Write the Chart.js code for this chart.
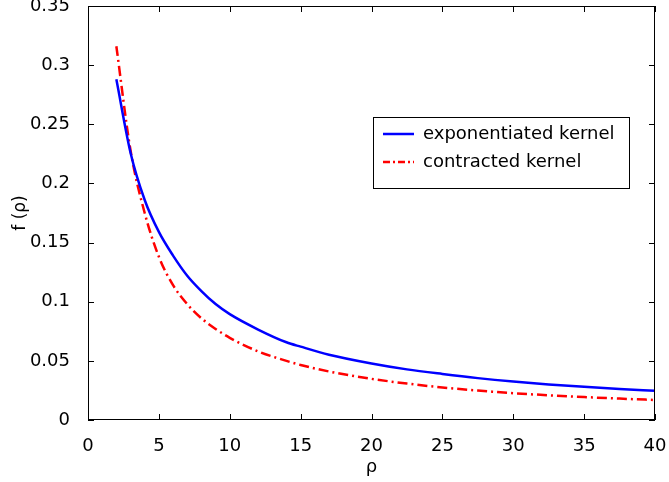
<!DOCTYPE html>
<html>
<head>
<meta charset="utf-8">
<script src="https://cdn.jsdelivr.net/npm/chart.js@4"></script>
<style>
  html, body { margin: 0; padding: 0; background: #fff; }
  #wrap { width: 669px; height: 482px; position: relative; }
</style>
</head>
<body>
<div id="wrap"><canvas id="kernelChart"></canvas></div>
<script>
// rho values and the two kernel curves
const rho = [2, 3, 4, 5, 6, 7, 8, 9, 10, 12, 14, 15, 17, 20, 22.5, 25, 27.5, 30, 32.5, 35, 37.5, 40];
const exponentiated = [0.288, 0.226, 0.186, 0.159, 0.139, 0.122, 0.109, 0.098, 0.0895, 0.0765, 0.0657, 0.0620,
  0.0552, 0.0478, 0.0428, 0.0389, 0.0354, 0.0325, 0.0301, 0.0281, 0.0263, 0.0247];
const contracted = [0.316, 0.228, 0.175, 0.138, 0.114, 0.098, 0.086, 0.077, 0.0695, 0.058, 0.050, 0.0465,
  0.041, 0.0348, 0.0308, 0.0275, 0.0249, 0.0227, 0.0209, 0.0194, 0.0181, 0.0169];
const xTicks = [0, 5, 10, 15, 20, 25, 30, 35, 40];
const yTicks = [0, 0.05, 0.1, 0.15, 0.2, 0.25, 0.3, 0.35];
const seriesLabels = ["exponentiated kernel", "contracted kernel"];

const FONT = "'DejaVu Sans', Helvetica, Arial, sans-serif";
const ctx = document.getElementById("kernelChart");

function toPoints(ys) {
  return rho.map((x, i) => ({ x: x, y: ys[i] }));
}

// Box around the plot, inward ticks on all four sides, and the boxed legend
const framePlugin = {
  id: "frame",
  afterDraw(chart) {
    const c = chart.ctx;
    const a = chart.chartArea;
    const xs = chart.scales.x;
    const ys = chart.scales.y;
    c.save();
    c.strokeStyle = "#000";
    c.lineWidth = 1;
    c.strokeRect(a.left + 0.5, a.top + 0.5, a.right - a.left - 1, a.bottom - a.top - 1);
    c.beginPath();
    xTicks.forEach((t) => {
      const px = Math.round(xs.getPixelForValue(t)) + 0.5;
      c.moveTo(px, a.bottom); c.lineTo(px, a.bottom - 6);
      c.moveTo(px, a.top); c.lineTo(px, a.top + 6);
    });
    yTicks.forEach((t) => {
      const py = Math.round(ys.getPixelForValue(t)) + 0.5;
      c.moveTo(a.left, py); c.lineTo(a.left + 6, py);
      c.moveTo(a.right, py); c.lineTo(a.right - 6, py);
    });
    c.stroke();

    // legend
    const lx = a.left + 285, ly = a.top + 111, lw = 256, lh = 71;
    c.fillStyle = "#fff";
    c.fillRect(lx, ly, lw, lh);
    c.strokeRect(lx + 0.5, ly + 0.5, lw, lh);
    const styles = [
      { color: "#0000ff", dash: [] },
      { color: "#ff0000", dash: [7, 3, 2, 3] },
    ];
    seriesLabels.forEach((label, i) => {
      const ry = ly + 17 + i * 28;
      c.strokeStyle = styles[i].color;
      c.lineWidth = 2.5;
      c.setLineDash(styles[i].dash);
      c.beginPath();
      c.moveTo(lx + 10, ry); c.lineTo(lx + 41, ry);
      c.stroke();
      c.setLineDash([]);
      c.fillStyle = "#000";
      c.font = "18px " + FONT;
      c.textBaseline = "middle";
      c.fillText(label, lx + 50, ry);
    });
    c.restore();
  },
};

new Chart(ctx, {
  type: "scatter",
  data: {
    datasets: [
      {
        label: seriesLabels[0],
        data: toPoints(exponentiated),
        showLine: true,
        borderColor: "#0000ff",
        borderWidth: 2.5,
        pointRadius: 0,
        cubicInterpolationMode: "monotone",
      },
      {
        label: seriesLabels[1],
        data: toPoints(contracted),
        showLine: true,
        borderColor: "#ff0000",
        borderWidth: 2.5,
        borderDash: [10, 4, 2, 4],
        pointRadius: 0,
        cubicInterpolationMode: "monotone",
      },
    ],
  },
  options: {
    responsive: true,
    maintainAspectRatio: false,
    animation: false,
    layout: { padding: { top: 6, right: 14, left: 0, bottom: 0 } },
    plugins: {
      legend: { display: false },
      tooltip: { enabled: false },
    },
    scales: {
      x: {
        type: "linear",
        min: 0,
        max: 40,
        afterBuildTicks: (s) => { s.ticks = xTicks.map((v) => ({ value: v })); },
        afterFit: (s) => { s.height = 62; s.paddingLeft = 0; s.paddingRight = 0; },
        grid: { display: false },
        border: { display: false },
        ticks: { color: "#000", padding: 8, font: { family: FONT, size: 18 }, maxRotation: 0 },
        title: { display: true, text: "ρ", color: "#000", padding: { top: 0 }, font: { family: FONT, size: 18 } },
      },
      y: {
        type: "linear",
        min: 0,
        max: 0.35,
        afterBuildTicks: (s) => { s.ticks = yTicks.map((v) => ({ value: v })); },
        afterFit: (s) => { s.width = 88; s.paddingTop = 0; s.paddingBottom = 0; },
        grid: { display: false },
        border: { display: false },
        ticks: {
          color: "#000",
          padding: 10,
          font: { family: FONT, size: 18 },
          callback: (v) => String(parseFloat(Number(v).toFixed(2))),
        },
        title: { display: true, text: "f (ρ)", color: "#000", padding: { top: 10, bottom: 0 }, font: { family: FONT, size: 17 } },
      },
    },
  },
  plugins: [framePlugin],
});
</script>
</body>
</html>
